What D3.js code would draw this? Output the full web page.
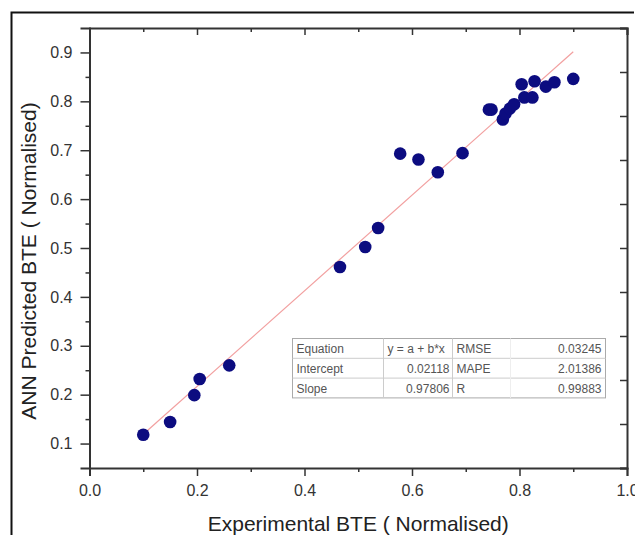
<!doctype html>
<html>
  <head>
    <meta charset="utf-8">
    <script src="https://d3js.org/d3.v7.min.js"></script>
    <style>
      body { margin: 0; background: #fff; }
      text { font-family: "Liberation Sans", Arial, sans-serif; }
    </style>
  </head>
  <body>
    <script>
    // experimental vs ANN predicted BTE (both normalised)
    var experimental = [0.100, 0.150, 0.195, 0.205, 0.260, 0.466, 0.513, 0.537,
                        0.578, 0.612, 0.648, 0.694, 0.743, 0.748, 0.769, 0.774,
                        0.782, 0.790, 0.804, 0.809, 0.824, 0.828, 0.849, 0.865, 0.900];
    var predicted    = [0.118, 0.144, 0.199, 0.232, 0.260, 0.461, 0.502, 0.541,
                        0.693, 0.681, 0.655, 0.694, 0.783, 0.783, 0.763, 0.775,
                        0.785, 0.794, 0.835, 0.808, 0.808, 0.841, 0.830, 0.839, 0.846];

    var intercept = 0.02118;
    var slope = 0.97806;
    var fitRange = [0.1, 0.9];

    var xTicks = [0.0, 0.2, 0.4, 0.6, 0.8, 1.0];
    var yTicks = [0.1, 0.2, 0.3, 0.4, 0.5, 0.6, 0.7, 0.8, 0.9];

    var tableRows = [
      ["Equation", "y = a + b*x", "RMSE", "0.03245"],
      ["Intercept", "0.02118", "MAPE", "2.01386"],
      ["Slope", "0.97806", "R", "0.99883"]
    ];

    var width = 635;
    var height = 535;
    var margin = {top: 28, right: 8, bottom: 67, left: 89.5};

    var svg = d3.select("body")
              .append("svg")
              .attr("width", width)
              .attr("height", height);

    // outer frame (top and left only visible)
    svg.append("path")
      .attr("d", "M11.5,535 L11.5,12.5 L634,12.5")
      .attr("fill", "none")
      .attr("stroke", "#111")
      .attr("stroke-width", 2);

    var x = d3.scaleLinear().domain([0, 1]).range([margin.left, width - margin.right]);
    var y = d3.scaleLinear().domain([0.05, 0.95]).range([height - margin.bottom, margin.top]);
    // right axis has its own even divisions
    var yRight = d3.scaleLinear().domain([0, 1]).range([height - margin.bottom, margin.top]);

    var axisColor = "#333";

    function styleAxis(g) {
      g.select(".domain").attr("stroke", axisColor).attr("stroke-width", 2);
      g.selectAll(".tick line").attr("stroke", axisColor).attr("stroke-width", 1.5);
      g.selectAll(".tick text")
        .attr("fill", "#333")
        .attr("font-size", "16px");
    }

    var minorX = d3.range(0.1, 1, 0.2);
    var minorY = d3.range(0.15, 0.9, 0.1);

    // bottom axis
    var gx = svg.append("g")
      .attr("transform", "translate(0," + y.range()[0] + ")")
      .call(d3.axisBottom(x).tickValues(xTicks).tickFormat(d3.format(".1f")).tickSize(8).tickPadding(9));
    styleAxis(gx);
    svg.append("g")
      .attr("transform", "translate(0," + y.range()[0] + ")")
      .call(d3.axisBottom(x).tickValues(minorX).tickFormat("").tickSize(4))
      .call(function(g) { g.select(".domain").remove(); styleAxis(g); });

    // top axis, ticks inward
    var gt = svg.append("g")
      .attr("transform", "translate(0," + margin.top + ")")
      .call(d3.axisTop(x).tickValues(xTicks).tickFormat("").tickSize(-7));
    styleAxis(gt);
    svg.append("g")
      .attr("transform", "translate(0," + margin.top + ")")
      .call(d3.axisTop(x).tickValues(minorX).tickFormat("").tickSize(-4))
      .call(function(g) { g.select(".domain").remove(); styleAxis(g); });

    // left axis
    var gy = svg.append("g")
      .attr("transform", "translate(" + margin.left + ",0)")
      .call(d3.axisLeft(y).tickValues(yTicks).tickFormat(d3.format(".1f")).tickSize(9).tickPadding(8));
    styleAxis(gy);
    svg.append("g")
      .attr("transform", "translate(" + margin.left + ",0)")
      .call(d3.axisLeft(y).tickValues(minorY).tickFormat("").tickSize(4))
      .call(function(g) { g.select(".domain").remove(); styleAxis(g); });

    // right axis, ticks inward
    var gr = svg.append("g")
      .attr("transform", "translate(" + x.range()[1] + ",0)")
      .call(d3.axisRight(yRight).ticks(10).tickFormat("").tickSize(-7));
    styleAxis(gr);

    // axis titles
    svg.append("text")
      .attr("x", (x.range()[0] + x.range()[1]) / 2)
      .attr("y", 531)
      .attr("text-anchor", "middle")
      .attr("font-size", "21px")
      .attr("fill", "#222")
      .text("Experimental BTE ( Normalised)");

    svg.append("text")
      .attr("transform", "translate(36,261) rotate(-90)")
      .attr("text-anchor", "middle")
      .attr("font-size", "21px")
      .attr("fill", "#222")
      .text("ANN Predicted BTE ( Normalised)");

    // linear fit
    svg.append("line")
      .attr("x1", x(fitRange[0]))
      .attr("y1", y(intercept + slope * fitRange[0]))
      .attr("x2", x(fitRange[1]))
      .attr("y2", y(intercept + slope * fitRange[1]))
      .attr("stroke", "#f2a0a0")
      .attr("stroke-width", 1.2);

    // points
    svg.append("g")
      .selectAll("circle")
      .data(experimental)
      .join("circle")
      .attr("cx", function(d) { return x(d); })
      .attr("cy", function(d, i) { return y(predicted[i]); })
      .attr("r", 6.3)
      .attr("fill", "#0c0c80");

    // stats table
    var tx = 292.5, ty = 338.5, rowH = 19.8;
    var colX = [tx, 383.5, 452.5, 510.5, 605.5];
    var tbl = svg.append("g");
    tbl.append("rect")
      .attr("x", tx).attr("y", ty)
      .attr("width", colX[4] - tx).attr("height", rowH * 3)
      .attr("fill", "#fff")
      .attr("stroke", "#aaa");
    d3.range(1, 3).forEach(function(i) {
      tbl.append("line")
        .attr("x1", tx).attr("x2", colX[4])
        .attr("y1", ty + rowH * i).attr("y2", ty + rowH * i)
        .attr("stroke", "#ccc");
    });
    [1, 2].forEach(function(c) {
      tbl.append("line")
        .attr("x1", colX[c]).attr("x2", colX[c])
        .attr("y1", ty).attr("y2", ty + rowH * 3)
        .attr("stroke", "#ccc");
    });
    tbl.append("line")
      .attr("x1", colX[3]).attr("x2", colX[3])
      .attr("y1", ty).attr("y2", ty + rowH * 3)
      .attr("stroke", "#eee");

    tableRows.forEach(function(row, r) {
      var by = ty + rowH * r + 14.5;
      tbl.append("text").attr("x", colX[0] + 4).attr("y", by)
        .attr("font-size", "12px").attr("fill", "#555").text(row[0]);
      tbl.append("text").attr("x", r === 0 ? colX[1] + 4 : colX[2] - 3).attr("y", by)
        .attr("text-anchor", r === 0 ? "start" : "end")
        .attr("font-size", "12px").attr("fill", "#555").text(row[1]);
      tbl.append("text").attr("x", colX[2] + 4).attr("y", by)
        .attr("font-size", "12px").attr("fill", "#555").text(row[2]);
      tbl.append("text").attr("x", colX[4] - 4).attr("y", by)
        .attr("text-anchor", "end")
        .attr("font-size", "12px").attr("fill", "#555").text(row[3]);
    });
    </script>
  </body>
</html>
